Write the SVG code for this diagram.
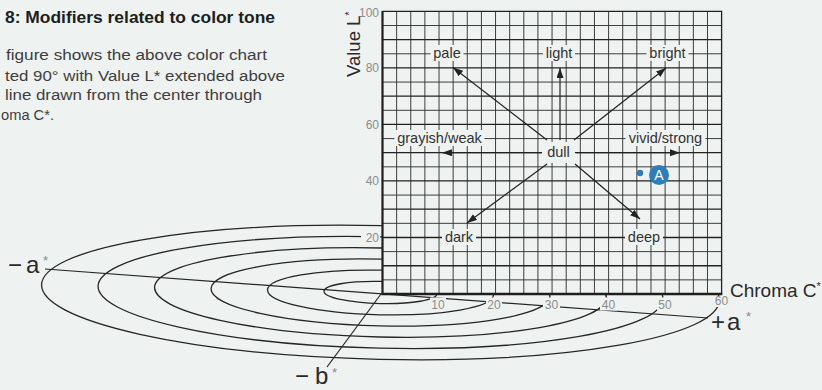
<svg xmlns="http://www.w3.org/2000/svg" width="822" height="390" viewBox="0 0 822 390">
<style>
.ell{fill:none;stroke:#262626;stroke-width:1.3}
.ax{fill:none;stroke:#262626;stroke-width:1.2}
.gmin{fill:none;stroke:#2a2a2a;stroke-width:0.9}
.gmaj{fill:none;stroke:#222;stroke-width:1.3}
.bg{fill:#eef2f1}
.lbl{font-family:"Liberation Sans",Arial,sans-serif;font-size:14.5px;fill:#333;text-anchor:middle}
.num{font-family:"Liberation Sans",Arial,sans-serif;font-size:12px;fill:#8c8c8c}
.big{font-family:"Liberation Sans",Arial,sans-serif;font-size:24px;fill:#2a2a2a}
.star{font-family:"Liberation Sans",Arial,sans-serif;font-size:13px;fill:#888}
.para{font-family:"Liberation Sans",Arial,sans-serif;font-size:15.5px;fill:#3e3e3e}
.arr{fill:none;stroke:#222;stroke-width:1.2;marker-end:url(#ah)}
</style>
<defs>
<marker id="ah" markerUnits="userSpaceOnUse" markerWidth="11" markerHeight="8" refX="10" refY="3.5" orient="auto">
<path d="M0,0 L10,3.5 L0,7 z" fill="#222"/>
</marker>
</defs>
<rect width="822" height="390" fill="#eef2f1"/>

<!-- heading text -->
<text x="5" y="23" font-family="Liberation Sans, Arial, sans-serif" font-size="16.5" font-weight="bold" fill="#1e1e1e" textLength="270" lengthAdjust="spacingAndGlyphs">8: Modifiers related to color tone</text>
<text class="para" x="6" y="60" textLength="261" lengthAdjust="spacingAndGlyphs">figure shows the above color chart</text>
<text class="para" x="5" y="80.5" textLength="280" lengthAdjust="spacingAndGlyphs">ted 90° with Value L* extended above</text>
<text class="para" x="5" y="100" textLength="257" lengthAdjust="spacingAndGlyphs">line drawn from the center through</text>
<text class="para" x="1" y="119.5" textLength="53" lengthAdjust="spacingAndGlyphs">oma C*.</text>

<!-- a*b* plane -->
<g id="plane">
<g transform="rotate(1.3 380.5 292.5)">
<ellipse class="ell" cx="380.5" cy="292.5" rx="56.5" ry="11.1"/>
<ellipse class="ell" cx="380.5" cy="292.5" rx="113" ry="22.3"/>
<ellipse class="ell" cx="380.5" cy="292.5" rx="169.5" ry="33.4"/>
<ellipse class="ell" cx="380.5" cy="292.5" rx="226" ry="44.5"/>
<ellipse class="ell" cx="380.5" cy="292.5" rx="282.5" ry="55.7"/>
<ellipse class="ell" cx="380.5" cy="292.5" rx="339" ry="66.8"/>
</g>
<path class="ax" d="M45,269 L708,318"/>
<path class="ax" d="M381,294 L327,367"/>
</g>

<!-- grid -->
<g id="grid">
<rect x="382.5" y="11.4" width="339.1" height="282.6" fill="#eef2f1"/>
<path class="gmin" d="M396.63,11.4V294M410.76,11.4V294M424.89,11.4V294M439.02,11.4V294M453.15,11.4V294M467.28,11.4V294M481.41,11.4V294M495.54,11.4V294M509.67,11.4V294M523.8,11.4V294M537.93,11.4V294M552.06,11.4V294M566.19,11.4V294M580.32,11.4V294M594.45,11.4V294M608.58,11.4V294M622.71,11.4V294M636.84,11.4V294M650.97,11.4V294M665.1,11.4V294M679.23,11.4V294M693.36,11.4V294M707.49,11.4V294"/>
<path class="gmin" d="M382.5,279.87H721.6M382.5,251.61H721.6M382.5,223.35H721.6M382.5,195.09H721.6M382.5,166.83H721.6M382.5,138.57H721.6M382.5,110.31H721.6M382.5,82.05H721.6M382.5,53.79H721.6M382.5,25.53H721.6"/>
<path class="gmaj" d="M382.5,265.74H721.6M382.5,237.48H721.6M382.5,209.22H721.6M382.5,180.96H721.6M382.5,152.7H721.6M382.5,124.44H721.6M382.5,96.18H721.6M382.5,67.92H721.6M382.5,39.66H721.6"/>
<path fill="none" stroke="#222" stroke-width="1.3" d="M382.5,11.4H721.6V294"/>
<path fill="none" stroke="#1e1e1e" stroke-width="2.2" d="M382.5,11V294"/>
<path fill="none" stroke="#1e1e1e" stroke-width="2.6" d="M381.4,294H722.3"/>
</g>

<!-- axis numbers -->
<g id="value-scale">
<rect class="bg" x="361" y="5" width="19" height="14"/>
<rect class="bg" x="361" y="61" width="19" height="14"/>
<rect class="bg" x="361" y="117" width="19" height="14"/>
<rect class="bg" x="361" y="174" width="19" height="14"/>
<rect class="bg" x="361" y="230" width="19" height="14"/>
<text class="num" x="379" y="16.5" text-anchor="end">100</text>
<text class="num" x="379" y="72.3" text-anchor="end">80</text>
<text class="num" x="379" y="128.7" text-anchor="end">60</text>
<text class="num" x="379" y="185.2" text-anchor="end">40</text>
<text class="num" x="379" y="241.7" text-anchor="end">20</text>
</g>
<g id="chroma-scale">
<rect class="bg" x="430" y="297.5" width="16" height="13"/>
<rect class="bg" x="486" y="297.5" width="16" height="13"/>
<rect class="bg" x="543" y="297.5" width="17" height="13"/>
<rect class="bg" x="600" y="297.5" width="17" height="13"/>
<rect class="bg" x="657" y="297.5" width="16" height="13"/>
<rect class="bg" x="714" y="296" width="15" height="11"/>
<text class="num" x="438" y="308.5" text-anchor="middle">10</text>
<text class="num" x="494" y="308.5" text-anchor="middle">20</text>
<text class="num" x="551.5" y="308.5" text-anchor="middle">30</text>
<text class="num" x="608.5" y="308.5" text-anchor="middle">40</text>
<text class="num" x="665" y="308.5" text-anchor="middle">50</text>
<text class="num" x="721.5" y="305" text-anchor="middle">60</text>
</g>

<!-- connectors -->
<g id="connectors">
<path class="arr" d="M547,140 L453,67.5"/>
<path class="arr" d="M560,140 L560,68"/>
<path class="arr" d="M574,140 L666,68"/>
<path class="arr" d="M543,152.7 L442,152.7"/>
<path class="arr" d="M576,152.7 L680,152.7"/>
<path class="arr" d="M547,164 L467,223"/>
<path class="arr" d="M575,164 L640,219"/>
</g>

<!-- nodes -->
<g id="pale"><rect class="bg" x="430.5" y="45" width="33" height="16"/><text class="lbl" x="447" y="57.8">pale</text></g>
<g id="light"><rect class="bg" x="543" y="45" width="32" height="16"/><text class="lbl" x="559" y="57.8">light</text></g>
<g id="bright"><rect class="bg" x="646.5" y="45" width="42" height="16"/><text class="lbl" x="667.5" y="57.8">bright</text></g>
<g id="grayish-weak"><rect class="bg" x="394.5" y="130" width="90" height="16"/><text class="lbl" x="439.5" y="142.6">grayish/weak</text></g>
<g id="vivid-strong"><rect class="bg" x="625.5" y="130" width="80" height="16"/><text class="lbl" x="665.5" y="142.6">vivid/strong</text></g>
<g id="dull"><rect class="bg" x="542" y="142" width="33" height="21"/><text class="lbl" x="558.5" y="156.7">dull</text></g>
<g id="dark"><rect class="bg" x="442" y="229" width="34" height="16"/><text class="lbl" x="459" y="241.5">dark</text></g>
<g id="deep"><rect class="bg" x="625" y="229" width="38" height="16"/><text class="lbl" x="644" y="241.5">deep</text></g>
<g id="point-A">
<circle cx="640" cy="173" r="3.2" fill="#2d7dbd"/>
<circle cx="659" cy="175" r="10" fill="#2d7dbd"/>
<text x="659" y="180.2" font-family="Liberation Sans, Arial, sans-serif" font-size="14" fill="#fff" text-anchor="middle">A</text>
</g>

<!-- axis titles -->
<text transform="translate(360,77) rotate(-90)" font-family="Liberation Sans, Arial, sans-serif" font-size="18.5" fill="#2a2a2a">Value L<tspan font-size="11" dy="-7">*</tspan></text>
<text x="730" y="297" font-family="Liberation Sans, Arial, sans-serif" font-size="19" fill="#2a2a2a">Chroma C<tspan font-size="11" dy="-7">*</tspan></text>
<text class="big" y="273"><tspan x="8">−</tspan><tspan x="26">a</tspan></text><text class="star" x="43" y="265">*</text>
<text class="big" y="329.5"><tspan x="711">+</tspan><tspan x="727">a</tspan></text><text class="star" x="746" y="321">*</text>
<text class="big" y="384"><tspan x="295">−</tspan><tspan x="315">b</tspan></text><text class="star" x="332" y="377">*</text>
</svg>
